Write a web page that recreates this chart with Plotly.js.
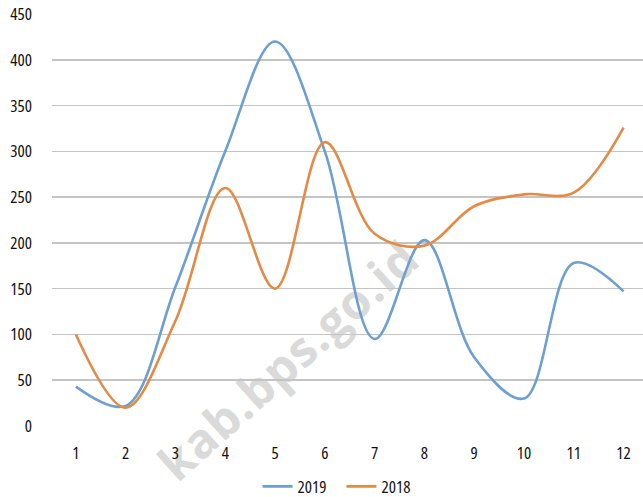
<!DOCTYPE html>
<html>
<head>
<meta charset="utf-8">
<script src="https://cdn.plot.ly/plotly-3.0.1.min.js"></script>
<style>
html,body{margin:0;padding:0;background:#fff;overflow:hidden}
#wrap{position:relative;width:643px;height:497px}
#chart{position:absolute;left:0;top:0;width:643px;height:497px;z-index:1}
#wm{position:absolute;left:288px;top:360px;transform:translate(-50%,-50%) rotate(-42deg);line-height:1;
    font-family:'Open Sans',sans-serif;font-weight:700;font-size:48px;color:#dadada;white-space:nowrap;z-index:0;letter-spacing:1px}
.main-svg text{font-stretch:condensed !important}
</style>
</head>
<body>
<div id="wrap">
<div id="wm">kab.bps.go.id</div>
<div id="chart"></div>
</div>
<script>
const months = [1,2,3,4,5,6,7,8,9,10,11,12];
const series2019 = [43, 22, 152, 300, 420, 300, 95, 203, 75, 30, 178, 147];
const series2018 = [100, 20, 115, 260, 150, 310, 210, 197, 240, 253, 255, 326];
const yTicks = [0,50,100,150,200,250,300,350,400,450];

const font = "'Open Sans', sans-serif";

const traces = [
  {x: months, y: series2019, name: '2019', type: 'scatter', mode: 'lines',
   line: {color: '#6d9fd0', width: 2.6, shape: 'spline', smoothing: 1}},
  {x: months, y: series2018, name: '2018', type: 'scatter', mode: 'lines',
   line: {color: '#e58a45', width: 2.6, shape: 'spline', smoothing: 1}}
];

const layout = {
  width: 643, height: 497,
  margin: {l: 52, r: 0, t: 14, b: 71, autoexpand: false},
  paper_bgcolor: 'rgba(0,0,0,0)', plot_bgcolor: 'rgba(0,0,0,0)',
  font: {family: font, size: 17, color: '#111'},
  xaxis: {
    range: [0.52, 12.39], tickvals: months, ticktext: months.map(String),
    showgrid: false, zeroline: false, showline: false, ticks: '',
    ticklabelstandoff: 15, fixedrange: true, automargin: false
  },
  yaxis: {
    range: [0, 450], tickvals: yTicks, showgrid: true, gridcolor: '#c4c4c4', gridwidth: 1.5,
    zeroline: false, showline: false, ticks: '', ticklabelstandoff: 19, fixedrange: true, automargin: false
  },
  showlegend: true,
  legend: {orientation: 'h', x: 0.49, xanchor: 'center', y: -0.104, yanchor: 'top',
           font: {family: font, size: 17, color: '#111'}, itemwidth: 30, tracegroupgap: 0}
};

Plotly.newPlot('chart', traces, layout, {displayModeBar: false, staticPlot: true});
</script>
</body>
</html>
